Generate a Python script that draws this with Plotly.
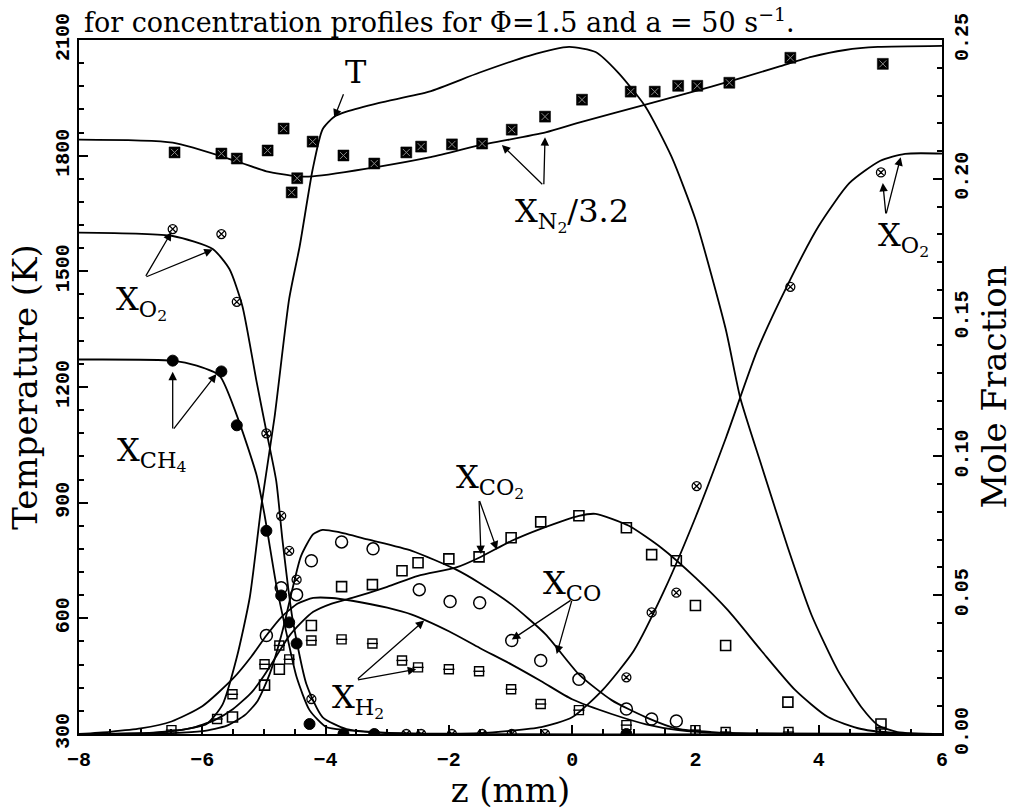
import plotly.graph_objects as go

# ---------------- data ----------------
# Temperature (left axis)
T_z = [-8.0, -6.85, -6.37, -5.93, -5.67, -5.44, -5.23, -5.04, -4.83, -4.59, -4.42, -4.21, -4.05, -3.86, -3.66,
       -3.13, -2.32, -1.51, -0.70, -0.05, 0.38, 0.75, 1.19, 1.61, 2.00, 2.49, 2.73, 3.07, 3.50, 3.88, 4.31,
       4.69, 4.96, 5.28, 6.0]
T_K = [300, 302, 310, 326, 377, 499, 654, 894, 1119, 1429, 1565, 1764, 1868, 1901, 1914,
       1937, 1966, 2015, 2059, 2082, 2069, 2015, 1927, 1798, 1635, 1351, 1170, 997, 783, 610, 465,
       370, 323, 305, 300]

# Mole fraction curves (right axis)
N2_z = [-8, -6.48, -5.44, -4.96, -4.47, -4.21, -3.13, -2.32, -1.51, -0.43, 0.11, 1.19, 2.26, 3.34, 3.88, 4.43, 4.96, 6.0]
N2_x = [0.2141, 0.2130, 0.2063, 0.2027, 0.2009, 0.2009, 0.2044, 0.2077, 0.2120, 0.2167, 0.2202, 0.2267, 0.2332,
        0.2403, 0.2439, 0.2464, 0.2475, 0.2479]

O2_z = [-8, -6.48, -5.83, -5.56, -5.35, -5.12, -4.96, -4.80, -4.70, -4.54, -4.31, -4.05, -3.66, -2.8, -1.5, -0.5,
        0.0, 0.5, 1.0, 1.5, 2.0, 2.5, 3.0, 3.5, 4.0, 4.5, 5.0, 5.4, 6.0]
O2_x = [0.1806, 0.1794, 0.1747, 0.1675, 0.1542, 0.1270, 0.1090, 0.0911, 0.0700, 0.0420, 0.0179, 0.0061, 0.0018,
        0.0003, 0.0003, 0.0025, 0.0060, 0.0160, 0.0300, 0.0520, 0.0780, 0.1070, 0.1380, 0.1620, 0.1830, 0.1985,
        0.2065, 0.2090, 0.2091]

CH4_z = [-8, -6.48, -6.09, -5.72, -5.44, -5.12, -4.99, -4.80, -4.63, -4.47, -4.26, -3.99, -3.66, -3.0, 6.0]
CH4_x = [0.1349, 0.1345, 0.1327, 0.1291, 0.1148, 0.0933, 0.0789, 0.0538, 0.0359, 0.0205, 0.0086, 0.0025, 0.0014,
         0.0003, 0.0]

CO_z = [-8, -6.5, -6.0, -5.6, -5.3, -5.1, -4.9, -4.7, -4.54, -4.4, -4.2, -4.05, -3.8, -3.3, -2.6, -1.88, -1.51,
        -0.98, -0.43, 0.11, 0.64, 1.19, 1.72, 2.26, 3.0, 6.0]
CO_x = [0, 0.0003, 0.001, 0.003, 0.007, 0.012, 0.022, 0.037, 0.052, 0.064, 0.072, 0.0735, 0.0728, 0.070, 0.066,
        0.0592, 0.0545, 0.0466, 0.0359, 0.0215, 0.0122, 0.0061, 0.0018, 0.0007, 0.0002, 0]

H2_z = [-8, -7.5, -7.0, -6.5, -6.0, -5.5, -5.2, -4.96, -4.7, -4.45, -4.2, -3.9, -3.57, -3.0, -2.6, -2.0, -1.5,
        -0.98, -0.5, 0.0, 0.64, 1.2, 1.72, 2.5, 6.0]
H2_x = [0, 0.0008, 0.002, 0.0045, 0.010, 0.020, 0.028, 0.0355, 0.0425, 0.047, 0.049, 0.049, 0.048, 0.0455, 0.043,
        0.037, 0.031, 0.025, 0.019, 0.0125, 0.0072, 0.0035, 0.0014, 0.0003, 0]

CO2_z = [-8, -6.8, -6.2, -5.8, -5.5, -5.2, -5.0, -4.8, -4.6, -4.4, -4.2, -3.9, -3.57, -3.0, -2.5, -1.88, -1.51,
         -0.98, -0.5, 0.11, 0.38, 0.92, 1.45, 2.0, 2.53, 3.07, 3.62, 4.15, 4.69, 5.3, 6.0]
CO2_x = [0, 0.0005, 0.002, 0.005, 0.009, 0.015, 0.021, 0.028, 0.035, 0.040, 0.044, 0.047, 0.049, 0.053, 0.057,
         0.060, 0.0635, 0.0696, 0.074, 0.0786, 0.0793, 0.075, 0.067, 0.0563, 0.0445, 0.030, 0.0158, 0.0061,
         0.0018, 0.0003, 0]

# Measured points
N2m_z = [-6.45, -5.69, -5.44, -4.94, -4.68, -4.55, -4.46, -4.21, -3.71, -3.21, -2.69, -2.45, -1.95, -1.46, -0.98,
         -0.44, 0.16, 0.95, 1.34, 1.72, 2.03, 2.55, 3.54, 5.04]
N2m_x = [0.2095, 0.2091, 0.2073, 0.2102, 0.2181, 0.1951, 0.2002, 0.2134, 0.2084, 0.2055, 0.2095, 0.2116, 0.2124,
         0.2127, 0.2177, 0.2224, 0.2285, 0.2314, 0.2314, 0.2335, 0.2335, 0.2346, 0.2436, 0.2414]

O2m_z = [-6.48, -5.69, -5.44, -4.96, -4.72, -4.59, -4.47, -4.23, -3.71, -3.21, -2.69, -2.45, -1.95, -1.46, -0.98,
         -0.44, 0.88, 1.29, 1.69, 2.02, 3.54, 5.01]
O2m_x = [0.1819, 0.1801, 0.1557, 0.1083, 0.0786, 0.0660, 0.0556, 0.0126, 0.0, 0.0, 0.0, 0.0, 0.0, 0.0, 0.0,
         0.0, 0.0204, 0.0438, 0.0509, 0.0893, 0.1611, 0.2023]

CH4m_z = [-6.48, -5.69, -5.44, -4.96, -4.72, -4.59, -4.47, -4.26, -3.71, -3.21, 0.88]
CH4m_x = [0.1345, 0.1306, 0.1112, 0.0732, 0.0499, 0.0402, 0.0326, 0.0036, 0.0, 0.0, 0.0]

COm_z = [-4.96, -4.72, -4.47, -4.23, -3.74, -3.23, -2.48, -1.98, -1.50, -0.98, -0.51, 0.11, 0.88, 1.29, 1.69]
COm_x = [0.0355, 0.0527, 0.0502, 0.0624, 0.0692, 0.0667, 0.0520, 0.0477, 0.0473, 0.0337, 0.0265, 0.0197, 0.0090,
         0.0054, 0.0047]

CO2m_z = [-5.51, -4.99, -4.75, -4.23, -3.74, -3.24, -2.76, -2.50, -2.00, -1.51, -0.99, -0.51, 0.11, 0.88, 1.29,
          1.69, 2.00, 2.49, 3.50, 5.01]
CO2m_x = [0.0061, 0.0176, 0.0233, 0.0391, 0.0531, 0.0538, 0.0588, 0.0617, 0.0631, 0.0638, 0.0707, 0.0764, 0.0786,
          0.0743, 0.0646, 0.0624, 0.0463, 0.0319, 0.0115, 0.0036]

H2m_z = [-6.50, -5.76, -5.51, -4.99, -4.75, -4.59, -4.23, -3.74, -3.24, -2.76, -2.50, -2.00, -1.51, -0.99, -0.51,
         0.11, 0.88, 2.00, 2.49, 3.51, 5.01]
H2m_x = [0.0014, 0.0054, 0.0143, 0.0251, 0.0319, 0.0269, 0.0337, 0.0341, 0.0326, 0.0265, 0.0240, 0.0233, 0.0226,
         0.0161, 0.0108, 0.0086, 0.0032, 0.0014, 0.0007, 0.0007, 0.0007]

x_ticks = [-8, -6, -4, -2, 0, 2, 4, 6]
x_ticktext = ["\u22128", "\u22126", "\u22124", "\u22122", "0", "2", "4", "6"]
T_ticks = [300, 600, 900, 1200, 1500, 1800, 2100]
X_ticks = [0.00, 0.05, 0.10, 0.15, 0.20, 0.25]
X_ticktext = ["0.00", "0.05", "0.10", "0.15", "0.20", "0.25"]

# ---------------- figure ----------------
SERIF = "DejaVu Serif"
TICKF = dict(family="Liberation Mono", size=20, color="black", weight="bold")
TITLEF = dict(family=SERIF, size=34, color="black")
LW = 1.8

fig = go.Figure()

fig.add_trace(go.Scatter(x=T_z, y=T_K, mode="lines", line=dict(color="black", width=LW, shape="spline", smoothing=0.6),
                         yaxis="y", showlegend=False))
for zz, xx in [(N2_z, N2_x), (O2_z, O2_x), (CH4_z, CH4_x), (CO_z, CO_x), (H2_z, H2_x), (CO2_z, CO2_x)]:
    fig.add_trace(go.Scatter(x=zz, y=xx, mode="lines",
                             line=dict(color="black", width=LW, shape="spline", smoothing=0.6),
                             yaxis="y2", showlegend=False))

def pts(zz, xx, symbol, size, lw=1.3, color="black", lcolor="black"):
    fig.add_trace(go.Scatter(x=zz, y=xx, mode="markers", yaxis="y2", showlegend=False,
                             marker=dict(symbol=symbol, size=size, color=color,
                                         line=dict(color=lcolor, width=lw))))

pts(N2m_z, N2m_x, "square", 11, 0.5, "black")
pts(N2m_z, N2m_x, "x-thin", 7, 1.0, "#888888", "#888888")
pts(O2m_z, O2m_x, "circle-x-open", 9, 1.3)
pts(CH4m_z, CH4m_x, "circle", 11, 1.0)
pts(COm_z, COm_x, "circle-open", 12, 1.5)
pts(CO2m_z, CO2m_x, "square-open", 10, 1.6)
pts(H2m_z, H2m_x, "square-open", 9, 1.4)
pts(H2m_z, H2m_x, "line-ew", 8, 1.4)

# ---------------- annotations ----------------
lab_font = dict(family=SERIF, size=32, color="black")
ann = []

def label(x, y, text):
    ann.append(dict(x=x, y=y, xref="x", yref="y2", text=text, showarrow=False, font=lab_font,
                    xanchor="center", yanchor="middle"))

def arrow(x0, y0, x1, y1):
    ann.append(dict(x=x1, y=y1, ax=x0, ay=y0, xref="x", yref="y2", axref="x", ayref="y2", text="",
                    showarrow=True, arrowhead=2, arrowsize=1.3, arrowwidth=1.3, arrowcolor="black"))

label(-3.50, 0.2385, "T")
arrow(-3.70, 0.2310, -3.86, 0.2220)

label(0.00, 0.1870, "X<sub>N<sub>2</sub></sub>/3.2")
arrow(-0.46, 0.1975, -0.44, 0.2150)
arrow(-0.46, 0.1975, -1.14, 0.2122)

label(5.37, 0.1785, "X<sub>O<sub>2</sub></sub>")
arrow(5.09, 0.1870, 5.04, 0.1985)
arrow(5.09, 0.1870, 5.33, 0.2078)

label(-6.98, 0.1555, "X<sub>O<sub>2</sub></sub>")
arrow(-6.93, 0.1645, -6.50, 0.1808)
arrow(-6.93, 0.1645, -5.83, 0.1745)

label(-6.83, 0.1010, "X<sub>CH<sub>4</sub></sub>")
arrow(-6.48, 0.1095, -6.48, 0.1305)
arrow(-6.48, 0.1095, -5.77, 0.1297)

label(-1.33, 0.0915, "X<sub>CO<sub>2</sub></sub>")
arrow(-1.51, 0.0845, -1.48, 0.0648)
arrow(-1.51, 0.0845, -1.22, 0.0664)

label(0.0, 0.0535, "X<sub>CO</sub>")
arrow(0.0, 0.0485, -0.98, 0.0340)
arrow(0.0, 0.0485, -0.25, 0.0288)

label(-3.47, 0.0120, "X<sub>H<sub>2</sub></sub>")
arrow(-3.50, 0.0194, -2.40, 0.0409)
arrow(-3.50, 0.0194, -2.53, 0.0233)

ann.append(dict(x=0.004, y=1.0, xref="paper", yref="paper", xanchor="left", yanchor="bottom", yshift=0,
                text="for concentration profiles for \u03a6=1.5 and a = 50 s<sup>\u22121</sup>.", showarrow=False,
                font=dict(family=SERIF, size=27, color="black")))

fig.update_layout(
    width=1027, height=810,
    margin=dict(l=79, r=85, t=40, b=73),
    paper_bgcolor="white", plot_bgcolor="white",
    annotations=ann,
    xaxis=dict(range=[-8, 6], tickvals=x_ticks, ticktext=x_ticktext,
               ticks="inside", ticklen=9, tickwidth=1.5, tickcolor="black", ticklabelstandoff=6,
               minor=dict(dtick=0.5, ticks="inside", ticklen=5, tickcolor="black"),
               showline=True, linewidth=2, linecolor="black", mirror=True, showgrid=False, zeroline=False,
               tickfont=TICKF,
               title=dict(text="z (mm)", font=TITLEF, standoff=2)),
    yaxis=dict(range=[300, 2100], tickvals=T_ticks, ticks="inside", ticklen=9, tickwidth=1.5, tickcolor="black",
               minor=dict(dtick=60, ticks="inside", ticklen=5, tickcolor="black"),
               showline=True, linewidth=2, linecolor="black", showgrid=False, zeroline=False, tickangle=-90,
               tickfont=TICKF,
               title=dict(text="Temperature (K)", font=TITLEF, standoff=4)),
    yaxis2=dict(range=[0, 0.25], tickvals=X_ticks, ticktext=X_ticktext,
                overlaying="y", side="right", ticks="inside", ticklen=9, tickwidth=1.5, tickcolor="black",
                minor=dict(dtick=0.01, ticks="inside", ticklen=5, tickcolor="black"),
                showline=True, linewidth=2, linecolor="black", showgrid=False, zeroline=False, tickangle=-90,
                tickfont=TICKF,
                title=dict(text="Mole Fraction", font=TITLEF, standoff=8)),
)

fig.write_html("out.html")
